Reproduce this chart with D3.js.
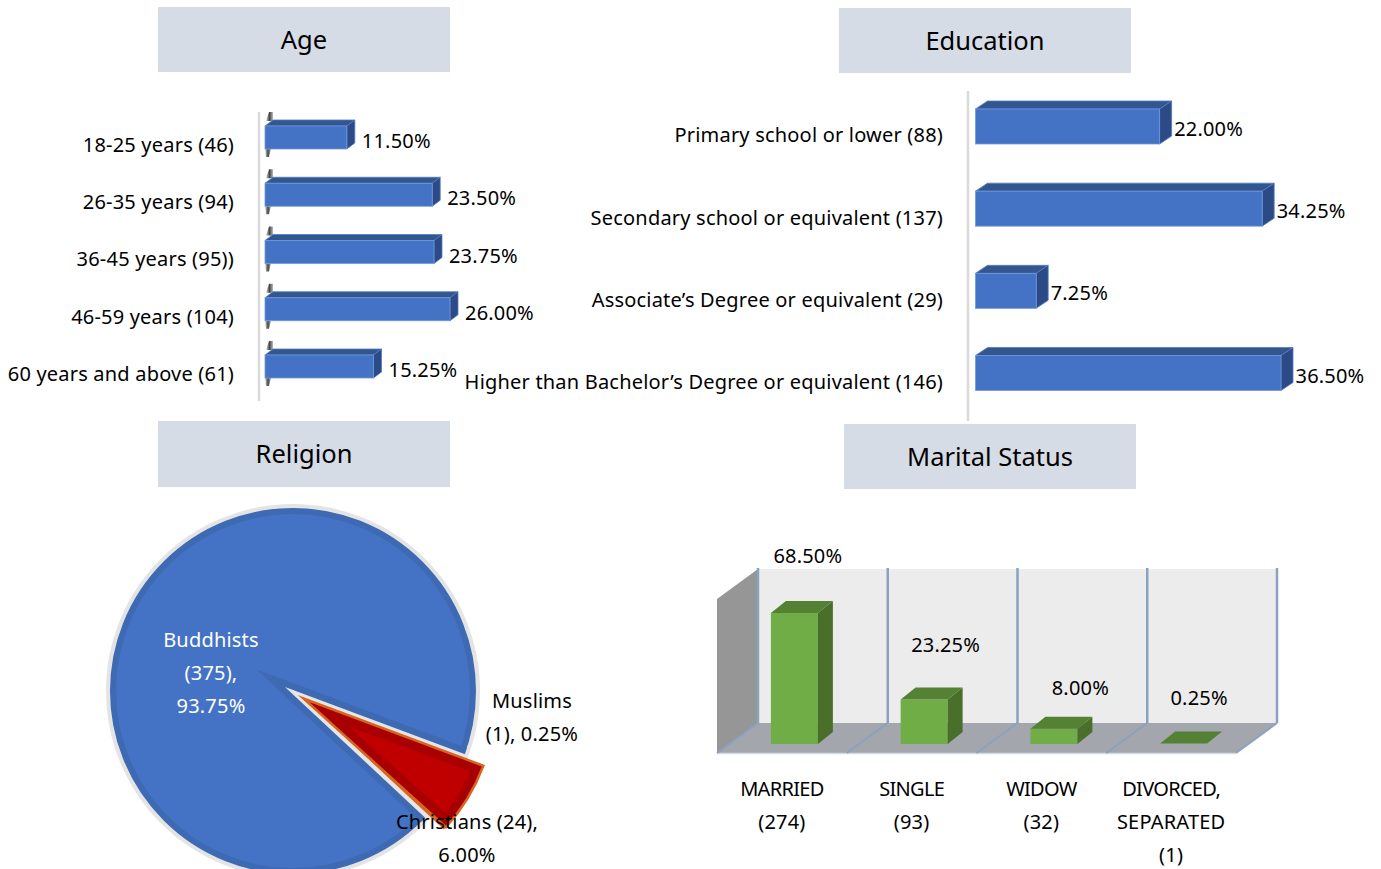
<!DOCTYPE html>
<html>
<head>
<meta charset="utf-8">
<script src="https://cdn.jsdelivr.net/npm/d3@7"></script>
<style>
body { margin: 0; background: #fff; }
svg { display: block; }
text { font-family: "Noto Sans", sans-serif; fill: #000; }
</style>
</head>
<body>
<div id="chart"></div>
<script>
var ageCategories = ["18-25 years (46)", "26-35 years (94)", "36-45 years (95))", "46-59 years (104)", "60 years and above (61)"];
var ageValues = [11.5, 23.5, 23.75, 26, 15.25];

var eduCategories = ["Primary school or lower (88)", "Secondary school or equivalent (137)", "Associate\u2019s Degree or equivalent (29)", "Higher than Bachelor\u2019s Degree or equivalent (146)"];
var eduValues = [22, 34.25, 7.25, 36.5];

var religionNames = ["Buddhists", "Christians", "Muslims"];
var religionCounts = [375, 24, 1];
var religionLabels = [["Buddhists", "(375),", "93.75%"], ["Christians (24),", "6.00%"], ["Muslims", "(1), 0.25%"]];

var maritalCategories = [["MARRIED", "(274)"], ["SINGLE", "(93)"], ["WIDOW", "(32)"], ["DIVORCED,", "SEPARATED", "(1)"]];
var maritalValues = [68.5, 23.25, 8, 0.25];

var titles = ["Age", "Education", "Religion", "Marital Status"];

var svg = d3.select("#chart").append("svg")
    .attr("width", 1381)
    .attr("height", 869);

var fontSize = 20;
var spacing = "0.2px";
var fmt = d3.format(".2f");

function poly(g, pts, fill, stroke) {
    return g.append("polygon")
        .attr("points", pts.map(p => p.join(",")).join(" "))
        .attr("fill", fill)
        .attr("stroke", stroke || "none")
        .attr("stroke-width", stroke ? 0.8 : 0);
}

function label(sel) {
    return sel.style("font-size", fontSize + "px").style("letter-spacing", spacing);
}

// title boxes
var titleBoxes = [[158, 7, 65], [839, 8, 65], [158, 421, 66], [844, 424, 65]];
titleBoxes.forEach(function(b, i) {
    svg.append("rect").attr("x", b[0]).attr("y", b[1]).attr("width", 292).attr("height", b[2]).attr("fill", "#d6dce5");
    svg.append("text").attr("x", b[0] + 146).attr("y", b[1] + b[2] / 2 + 9)
        .attr("text-anchor", "middle").style("font-size", "25.5px").text(titles[i]);
});

// gradient for the little smudges on the age chart
var defs = svg.append("defs");
var grad = defs.append("linearGradient").attr("id", "smudge");
grad.append("stop").attr("offset", "0").attr("stop-color", "#ddd");
grad.append("stop").attr("offset", "0.5").attr("stop-color", "#444");
grad.append("stop").attr("offset", "1").attr("stop-color", "#bbb");
defs.append("filter").attr("id", "soft").append("feGaussianBlur").attr("stdDeviation", 0.6);

function hbar3d(opt) {
    var x = d3.scaleLinear().domain([0, opt.max]).range([opt.x0, opt.x1]);
    var y = d3.scalePoint().domain(opt.cats).range(opt.yRange);
    var g = svg.append("g");

    g.append("line").attr("x1", opt.axisX).attr("x2", opt.axisX)
        .attr("y1", opt.axisY[0]).attr("y2", opt.axisY[1])
        .attr("stroke", "#d9d9d9").attr("stroke-width", 2.5);

    var axis = g.append("g")
        .attr("transform", `translate(${opt.labelX},${opt.labelDy})`)
        .call(d3.axisLeft(y).tickSize(0).tickPadding(0));
    axis.select(".domain").remove();
    label(axis.selectAll("text"));

    opt.vals.forEach(function(v, i) {
        var cy = y(opt.cats[i]);
        var t = cy - opt.h / 2, b = cy + opt.h / 2;
        var x0 = x(0), x1 = x(v);
        if (opt.smudge) {
            poly(g, [[x0 + 1, t - 5], [x0 + 4, t - 14], [x0 + 8, t - 14], [x0 + 8, t - 5]], "url(#smudge)").attr("filter", "url(#soft)");
            poly(g, [[x0, b], [x0 + 6, b], [x0 + 4, b + 8], [x0 + 1, b + 8]], "url(#smudge)").attr("filter", "url(#soft)");
        }
        poly(g, [[x0, t], [x0 + opt.dx, t - opt.dy], [x1 + opt.dx, t - opt.dy], [x1, t]], "#34568f", "#4f7cc4");
        poly(g, [[x1, t], [x1 + opt.dx, t - opt.dy], [x1 + opt.dx, b - opt.dy], [x1, b]], "#2c4a85", "#4f7cc4");
        g.append("rect").attr("x", x0).attr("y", t).attr("width", x1 - x0).attr("height", b - t)
            .attr("fill", "#4472c4").attr("stroke", "#6f9ade").attr("stroke-width", 0.8);
        label(g.append("text").attr("x", x1 + opt.dx + opt.valGap).attr("y", cy + opt.valDy)
            .attr("dy", ".35em")).text(fmt(v) + "%");
    });
}

hbar3d({
    cats: ageCategories, vals: ageValues, max: 26, x0: 265, x1: 450,
    yRange: [137.5, 366.5], h: 23, dx: 8, dy: 6,
    axisX: 259, axisY: [112, 401], labelX: 234, labelDy: 7.5,
    valGap: 7, valDy: 3.5, smudge: true
});

hbar3d({
    cats: eduCategories, vals: eduValues, max: 36.5, x0: 975.5, x1: 1281,
    yRange: [126.5, 373], h: 35, dx: 12, dy: 8,
    axisX: 968, axisY: [91, 421], labelX: 943, labelDy: 9,
    valGap: 2.5, valDy: 2.5, smudge: false
});

// religion pie: blue disc with a notch cut where the red slice was pulled out
var pieData = d3.pie().sort(null)
    .startAngle(133 * Math.PI / 180)
    .endAngle((133 + 360) * Math.PI / 180)(religionCounts);

var discC = [293, 691];
var notchC = [285, 687];
var redC = [303.5, 698.5];
var discR = 183;
var arcNotch = d3.arc().innerRadius(0).outerRadius(discR + 20)
    .startAngle(pieData[1].startAngle).endAngle(pieData[2].endAngle);
var arcRed = d3.arc().innerRadius(0).outerRadius(192);

var pieG = svg.append("g");

defs.append("clipPath").attr("id", "haloClip").append("circle")
    .attr("cx", discC[0]).attr("cy", discC[1]).attr("r", discR + 4);
defs.append("clipPath").attr("id", "discClip").append("circle")
    .attr("cx", discC[0]).attr("cy", discC[1]).attr("r", discR);

pieG.append("circle").attr("cx", discC[0]).attr("cy", discC[1]).attr("r", discR + 4).attr("fill", "#e4e4e4");
pieG.append("circle").attr("cx", discC[0]).attr("cy", discC[1]).attr("r", discR - 3)
    .attr("fill", "#4472c4").attr("stroke", "#3e69b3").attr("stroke-width", 6);

pieG.append("g").attr("clip-path", "url(#discClip)")
    .append("path").attr("transform", `translate(${notchC})`).attr("d", arcNotch())
    .attr("fill", "none").attr("stroke", "#3e69b3").attr("stroke-width", 13).attr("stroke-miterlimit", 12);
pieG.append("g").attr("clip-path", "url(#haloClip)")
    .append("path").attr("transform", `translate(${notchC})`).attr("d", arcNotch())
    .attr("fill", "#e6e6e6");
// white outside the halo ring, past the end of the notch
var red = pieG.append("g").attr("transform", `translate(${redC})`);
red.append("clipPath").attr("id", "redClip").append("path").attr("d", arcRed(pieData[1]));
red.append("path").attr("d", arcRed(pieData[2])).attr("fill", "#d8641e");
red.append("path").attr("d", arcRed(pieData[1]))
    .attr("fill", "#c00000").attr("stroke", "#a80000").attr("stroke-width", 20)
    .attr("stroke-miterlimit", 12).attr("clip-path", "url(#redClip)");
red.append("path").attr("d", arcRed(pieData[1]))
    .attr("fill", "none").attr("stroke", "#d8641e").attr("stroke-width", 2.5).attr("stroke-miterlimit", 10);

var pieLabelPos = [[211, 640, "#fff"], [467, 822, "#000"], [532, 701, "#000"]];
religionLabels.forEach(function(lines, i) {
    lines.forEach(function(s, j) {
        label(svg.append("text")
            .attr("x", pieLabelPos[i][0]).attr("y", pieLabelPos[i][1] + j * 33)
            .attr("dy", ".35em").attr("text-anchor", "middle"))
            .style("fill", pieLabelPos[i][2])
            .text(s);
    });
});

// marital status columns
var mKeys = maritalCategories.map(d => d.join(" "));
var mx = d3.scaleBand().domain(mKeys).range([717, 1236]);
var my = d3.scaleLinear().domain([0, 68.5]).range([744, 613]);
var wallDx = 41, wallDy = 30, wallTop = 569, floorBack = 723, floorFront = 753;
var mG = svg.append("g");

poly(mG, [[717 + wallDx, wallTop], [1236 + wallDx, wallTop], [1236 + wallDx, floorBack], [717 + wallDx, floorBack]], "#ececec");
poly(mG, [[717, wallTop + wallDy], [717 + wallDx, wallTop], [717 + wallDx, floorBack], [717, floorFront]], "#969696");
poly(mG, [[717, floorFront], [717 + wallDx, floorBack], [1236 + wallDx, floorBack], [1236, floorFront]], "#a3a6ad");
mG.append("line").attr("x1", 717).attr("x2", 1236).attr("y1", floorFront + 0.5).attr("y2", floorFront + 0.5)
    .attr("stroke", "#d5d9e0").attr("stroke-width", 1.5);

var gridX = mKeys.map(k => mx(k)).concat([1236]);
gridX.forEach(function(gx) {
    mG.append("line").attr("x1", gx + wallDx).attr("x2", gx + wallDx).attr("y1", wallTop - 1).attr("y2", floorBack)
        .attr("stroke", "#8aa2c0").attr("stroke-width", 2.5);
    mG.append("line").attr("x1", gx).attr("x2", gx + wallDx).attr("y1", floorFront).attr("y2", floorBack)
        .attr("stroke", "#8aa2c0").attr("stroke-width", 2);
});

var barW = 47, barDx = 15, barDy = 12, barShift = 12.5;
var valueOffsets = [[26, 556], [34, 645], [39, 688], [28, 698]];
maritalValues.forEach(function(v, i) {
    var k = mKeys[i];
    var x0 = mx(k) + mx.bandwidth() / 2 - barW / 2 + barShift, x1 = x0 + barW;
    var t = my(v), b = my(0);
    if (v > 1) {
        mG.append("rect").attr("x", x0).attr("y", t).attr("width", barW).attr("height", b - t)
            .attr("fill", "#70ad47");
        poly(mG, [[x1, t], [x1 + barDx, t - barDy], [x1 + barDx, b - barDy], [x1, b]], "#4a6f2b");
    }
    poly(mG, [[x0, t], [x0 + barDx, t - barDy], [x1 + barDx, t - barDy], [x1, t]], "#558135");
    var c = mx(k) + mx.bandwidth() / 2;
    label(svg.append("text").attr("x", c + valueOffsets[i][0]).attr("y", valueOffsets[i][1])
        .attr("dy", ".35em").attr("text-anchor", "middle")).text(fmt(v) + "%");
    maritalCategories[i].forEach(function(s, j) {
        label(svg.append("text").attr("x", c).attr("y", 789 + j * 33)
            .attr("dy", ".35em").attr("text-anchor", "middle"))
            .style("letter-spacing", /^[A-RT-Z]/.test(s) || s == "SINGLE" ? "-0.7px" : spacing)
            .text(s);
    });
});
</script>
</body>
</html>
